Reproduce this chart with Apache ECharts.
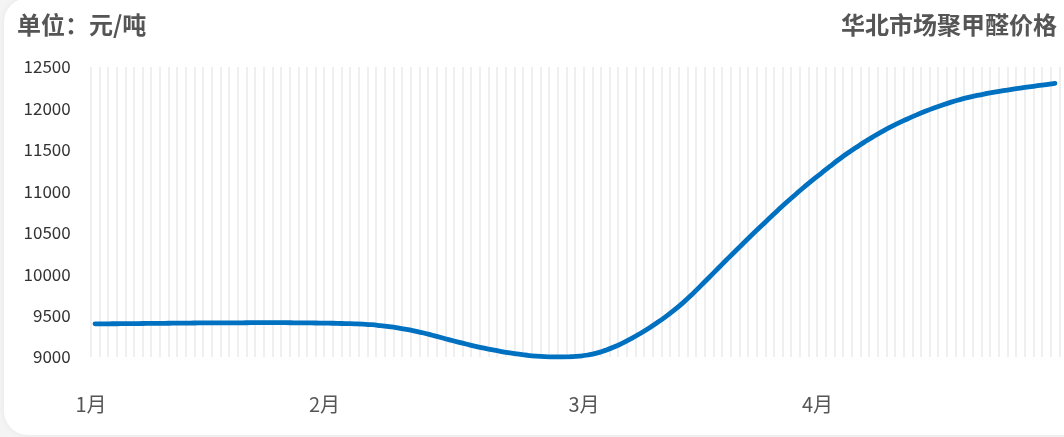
<!DOCTYPE html>
<html>
<head>
<meta charset="utf-8">
<script src="https://cdn.jsdelivr.net/npm/echarts@6/dist/echarts.min.js"></script>
<style>
  html, body { margin: 0; padding: 0; background: #f4f4f4; width: 1064px; height: 437px; overflow: hidden; }
  #card { position: absolute; left: 4px; top: -2px; width: 1100px; height: 437px; background: #fff; border-radius: 24px; box-shadow: 0 0 6px rgba(0,0,0,0.06); }
  #chart { position: absolute; left: 0; top: 0; width: 1064px; height: 437px; }
</style>
</head>
<body>
<div id="card"></div>
<div id="chart"></div>
<script>
// ---- data ----
const unitTitle = '单位：元/吨';
const chartTitle = '华北市场聚甲醛价格';
const monthLabels = ['1月', '2月', '3月', '4月'];
const monthIndex = [0, 27, 57, 84];
const yTicks = [9000, 9500, 10000, 10500, 11000, 11500, 12000, 12500];
const prices = [
  9400, 9400, 9401, 9402, 9403, 9404, 9405, 9406, 9407, 9408,
  9409, 9410, 9411, 9411, 9412, 9412, 9413, 9413, 9414, 9414,
  9414, 9414, 9414, 9413, 9412, 9411, 9410, 9408, 9406, 9403,
  9400, 9396, 9390, 9379, 9366, 9351, 9334, 9313, 9290, 9263,
  9235, 9207, 9180, 9154, 9129, 9106, 9085, 9066, 9049, 9034,
  9021, 9011, 9004, 9000, 9000, 9003, 9010, 9024, 9047, 9080,
  9120, 9168, 9222, 9281, 9345, 9414, 9488, 9568, 9656, 9752,
  9855, 9960, 10065, 10170, 10274, 10376, 10478, 10578, 10677, 10775,
  10870, 10962, 11052, 11138, 11220, 11303, 11383, 11458, 11528, 11596,
  11660, 11720, 11776, 11828, 11876, 11922, 11965, 12005, 12042, 12076,
  12106, 12133, 12157, 12178, 12197, 12214, 12230, 12245, 12260, 12274,
  12288, 12302
];

const categories = prices.map((_, i) => {
  const k = monthIndex.indexOf(i);
  return k >= 0 ? monthLabels[k] : '';
});

const FONT = '"Noto Sans CJK SC", "Noto Sans", sans-serif';
const chart = echarts.init(document.getElementById('chart'), null, { renderer: 'canvas' });
chart.setOption({
  backgroundColor: 'transparent',
  animation: false,
  title: [
    { text: unitTitle, left: 12, top: 8, textStyle: { fontSize: 24, fontWeight: 'bold', color: '#555', fontFamily: FONT } },
    { text: chartTitle, right: 2, top: 8, textStyle: { fontSize: 24, fontWeight: 'bold', color: '#555', fontFamily: FONT } }
  ],
  grid: { left: 90.7, right: 4.7, top: 67, bottom: 80, containLabel: false },
  xAxis: {
    type: 'category',
    data: categories,
    boundaryGap: true,
    axisLine: { show: false },
    axisTick: { show: false },
    axisLabel: { interval: 0, fontSize: 20, color: '#555', fontFamily: FONT, margin: 37, padding: [0, 8, 0, 0] },
    splitLine: { show: true, interval: 0, lineStyle: { color: '#efefef', width: 2 } }
  },
  yAxis: {
    type: 'value',
    min: yTicks[0],
    max: yTicks[yTicks.length - 1],
    interval: 500,
    axisLine: { show: false },
    axisTick: { show: false },
    splitLine: { show: false },
    axisLabel: { fontSize: 17, color: '#333', fontFamily: FONT, margin: 20, formatter: v => String(v) }
  },
  series: [{
    type: 'line',
    data: prices,
    smooth: 0.5,
    showSymbol: false,
    symbol: 'none',
    lineStyle: { color: '#0070C0', width: 4.8, cap: 'round', join: 'round' }
  }]
});
</script>
</body>
</html>
